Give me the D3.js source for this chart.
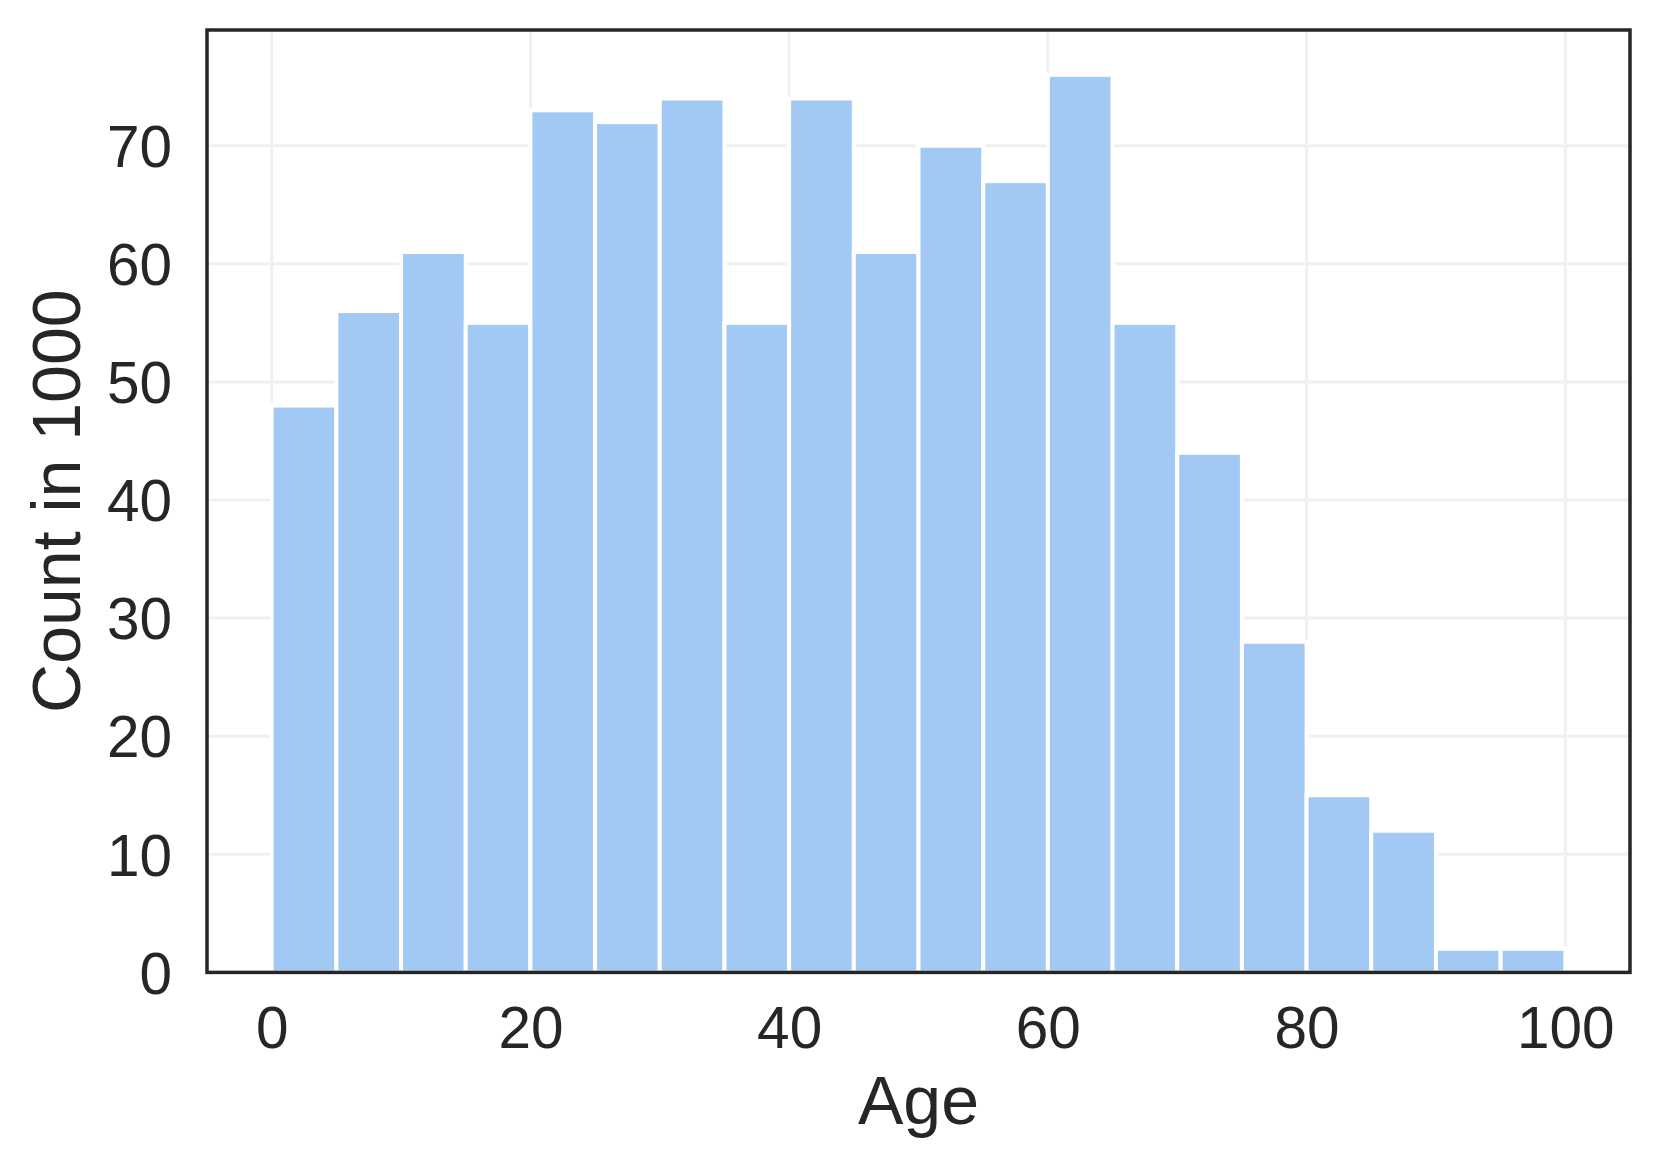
<!DOCTYPE html>
<html>
<head>
<meta charset="utf-8">
<script src="https://cdn.jsdelivr.net/npm/d3@7"></script>
<style>
  html, body { margin: 0; padding: 0; background: #ffffff; }
  svg { display: block; }
  text { font-family: "Liberation Sans", Arial, Helvetica, sans-serif; fill: #262626; }
</style>
</head>
<body>
<svg id="chart" width="1660" height="1169"></svg>
<script>
// ---- data ----
const binStarts = [0, 5, 10, 15, 20, 25, 30, 35, 40, 45, 50, 55, 60, 65, 70, 75, 80, 85, 90, 95];
const binEnds   = [5, 10, 15, 20, 25, 30, 35, 40, 45, 50, 55, 60, 65, 70, 75, 80, 85, 90, 95, 100];
const counts    = [48, 56, 61, 55, 73, 72, 74, 55, 74, 61, 70, 67, 76, 55, 44, 28, 15, 12, 2, 2];
const xTicks = [0, 20, 40, 60, 80, 100];
const yTicks = [0, 10, 20, 30, 40, 50, 60, 70];
const xLabel = "Age";
const yLabel = "Count in 1000";

// ---- layout ----
const plotLeft = 207, plotTop = 30, plotRight = 1630, plotBottom = 972.4;
const svg = d3.select("#chart");
svg.append("rect").attr("width", 1660).attr("height", 1169).attr("fill", "#ffffff");

const xMin = d3.min(binStarts), xMax = d3.max(binEnds);
const xPad = (xMax - xMin) * 0.05;
const x = d3.scaleLinear().domain([xMin - xPad, xMax + xPad]).range([plotLeft, plotRight]);
const y = d3.scaleLinear().domain([0, d3.max(counts) * 1.05]).range([plotBottom, plotTop]);

const bins = binStarts.map((s, i) => ({ x0: s, x1: binEnds[i], v: counts[i] }));

// grid
const grid = svg.append("g");
grid.selectAll("line.h").data(yTicks).enter().append("line")
  .attr("class", "h")
  .attr("x1", plotLeft).attr("x2", plotRight)
  .attr("y1", d => y(d)).attr("y2", d => y(d))
  .attr("stroke", "#f0f0f0").attr("stroke-width", 3);
grid.selectAll("line.v").data(xTicks).enter().append("line")
  .attr("class", "v")
  .attr("y1", plotTop).attr("y2", plotBottom)
  .attr("x1", d => x(d)).attr("x2", d => x(d))
  .attr("stroke", "#f0f0f0").attr("stroke-width", 3);

// bars
svg.append("g").selectAll("rect").data(bins).enter().append("rect")
  .attr("x", d => x(d.x0))
  .attr("width", d => x(d.x1) - x(d.x0))
  .attr("y", d => y(d.v))
  .attr("height", d => y(0) - y(d.v))
  .attr("fill", "#a1c9f4")
  .attr("stroke", "#ffffff")
  .attr("stroke-width", 4);

// frame
svg.append("rect")
  .attr("x", plotLeft).attr("y", plotTop)
  .attr("width", plotRight - plotLeft).attr("height", plotBottom - plotTop)
  .attr("fill", "none").attr("stroke", "#262626").attr("stroke-width", 3.5);

// axes via d3 axis generators (no tick marks, no domain)
const tickFs = 58.5;
const xAxis = d3.axisBottom(x).tickValues(xTicks).tickSize(0).tickPadding(0).tickFormat(d3.format("d"));
const gx = svg.append("g").attr("transform", `translate(0,${plotBottom})`).call(xAxis);
gx.select(".domain").remove();
gx.selectAll("text")
  .attr("y", 1048 - plotBottom).attr("dy", null)
  .style("font-size", tickFs + "px")
  .style("font-family", '"Liberation Sans", Arial, sans-serif')
  .attr("fill", "#262626");

const yAxis = d3.axisLeft(y).tickValues(yTicks).tickSize(0).tickPadding(0).tickFormat(d3.format("d"));
const gy = svg.append("g").attr("transform", `translate(${plotLeft},0)`).call(yAxis);
gy.select(".domain").remove();
gy.selectAll("text")
  .attr("x", 172 - plotLeft).attr("dy", (0.355 * tickFs) + "px")
  .style("font-size", tickFs + "px")
  .style("font-family", '"Liberation Sans", Arial, sans-serif')
  .attr("fill", "#262626");

// axis labels
const labelFs = 68;
svg.append("text")
  .attr("x", (plotLeft + plotRight) / 2).attr("y", 1124)
  .attr("text-anchor", "middle")
  .style("font-size", labelFs + "px")
  .text(xLabel);

svg.append("text")
  .attr("transform", `translate(80,${(plotTop + plotBottom) / 2}) rotate(-90)`)
  .attr("text-anchor", "middle")
  .style("font-size", labelFs + "px")
  .text(yLabel);
</script>
</body>
</html>
